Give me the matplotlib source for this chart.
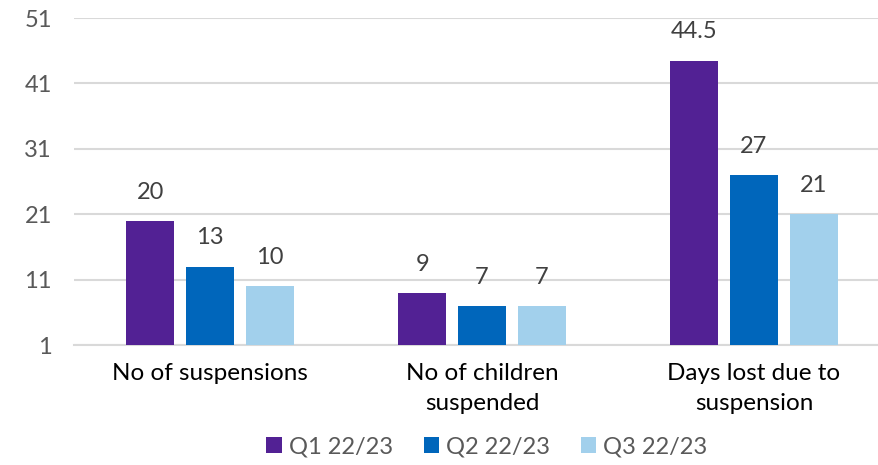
import numpy as np
from matplotlib import pyplot as plt

plt.rcParams['font.family'] = ['Lato', 'DejaVu Sans']

# data
categories = ['No of suspensions', 'No of children\nsuspended', 'Days lost due to\nsuspension']
series = ['Q1 22/23', 'Q2 22/23', 'Q3 22/23']
q1 = [20, 9, 44.5]
q2 = [13, 7, 27]
q3 = [10, 7, 21]
labels = [['20', '9', '44.5'], ['13', '7', '27'], ['10', '7', '21']]
colors = ['#522194', '#0066BB', '#A2D0EC']

fig = plt.figure(figsize=(8.79, 4.65), dpi=100)
ax = fig.add_axes([74/879, 120/465, 816/879, 327/465])

x = np.arange(len(categories))
width = 0.176
offset = 0.22
for i, (vals, col) in enumerate(zip([q1, q2, q3], colors)):
    pos = x + (i - 1) * offset
    ax.bar(pos, vals, width=width, color=col, label=series[i], zorder=3)
    for p, v, t in zip(pos, vals, labels[i]):
        ax.annotate(t, (p, v), xytext=(0, 13), textcoords='offset points',
                    ha='center', va='bottom', fontsize=17, color='#404040')

ax.set_xlim(-0.5, 2.5)
ax.set_ylim(1, 51)
ax.set_yticks([1, 11, 21, 31, 41, 51])
ax.yaxis.grid(True, color='#D9D9D9', linewidth=1.5, zorder=0)
ax.set_axisbelow(True)
for s in ['top', 'right', 'left']:
    ax.spines[s].set_visible(False)
ax.spines['bottom'].set_color('#D9D9D9')
ax.spines['bottom'].set_linewidth(1.5)
ax.tick_params(axis='y', length=0, pad=16, labelsize=17, labelcolor='#595959')
ax.set_xticks(x)
ax.set_xticklabels(categories, fontsize=17.5, color='black', linespacing=1.55)
ax.tick_params(axis='x', length=0, pad=13)

fig.legend(loc='center', bbox_to_anchor=(487/879, 18/465), ncol=3, frameon=False,
           fontsize=17, labelcolor='#595959', handlelength=0.65, handleheight=0.65,
           handletextpad=0.3, columnspacing=1.3)

fig.savefig('out.png', dpi=100)
